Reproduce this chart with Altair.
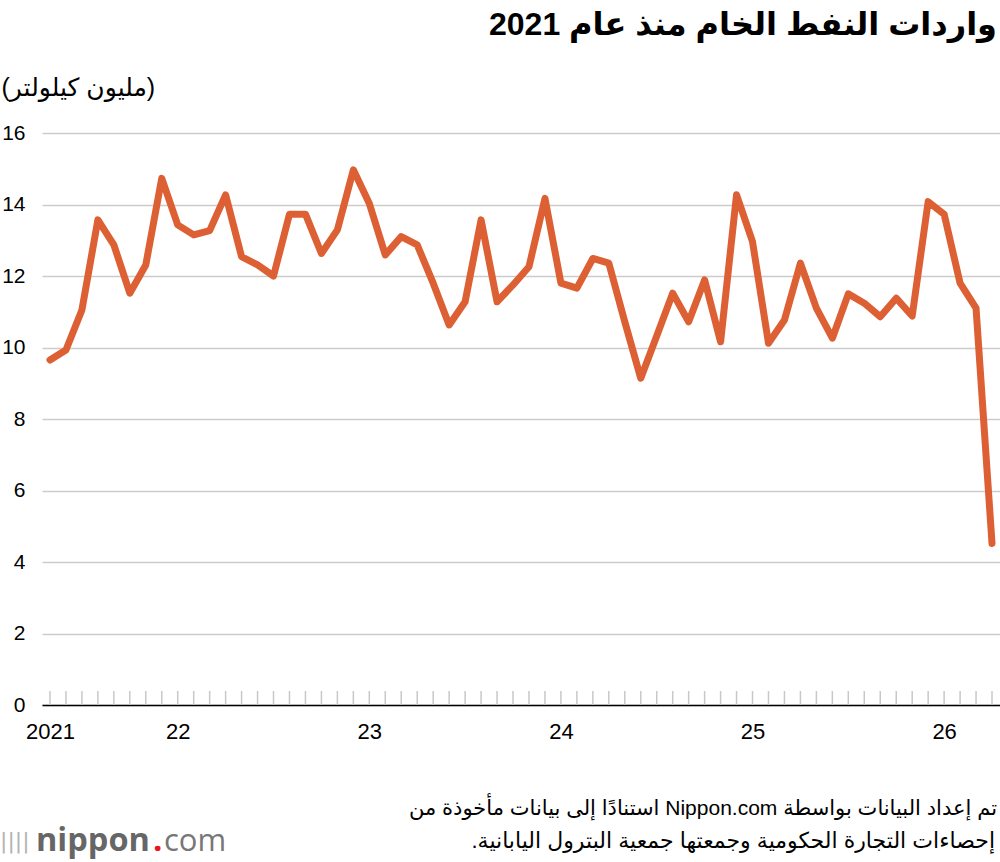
import altair as alt
import pandas as pd

# Monthly crude oil imports (million kilolitres), May 2021 -> Apr 2026
values = [9.65, 9.93, 11.05, 13.57, 12.87, 11.52, 12.31, 14.73, 13.43, 13.15,
          13.27, 14.27, 12.54, 12.31, 12.00, 13.73, 13.73, 12.63, 13.29, 14.97,
          14.03, 12.59, 13.10, 12.87, 11.80, 10.63, 11.28, 13.57, 11.28, 11.75,
          12.26, 14.17, 11.80, 11.66, 12.49, 12.36, 10.72, 9.14, 10.32, 11.52,
          10.72, 11.89, 10.16, 14.27, 12.96, 10.12, 10.77, 12.36, 11.10, 10.26,
          11.50, 11.24, 10.86, 11.38, 10.88, 14.08, 13.73, 11.80, 11.10, 4.52]
month_index = list(range(len(values)))
year_label_pos = [0, 8, 20, 32, 44, 56]
year_label_text = ["2021", "22", "23", "24", "25", "26"]
y_ticks = [0, 2, 4, 6, 8, 10, 12, 14, 16]

title_text = "واردات النفط الخام منذ عام 2021"
unit_text = "(مليون كيلولتر)"
footer_lines = ["تم إعداد البيانات بواسطة Nippon.com استنادًا إلى بيانات مأخوذة من",
                "إحصاءات التجارة الحكومية وجمعتها جمعية البترول اليابانية."]


def rtl(s):
    # right-to-left embedding so mixed Arabic/Latin lines read correctly
    return "\u202b" + s + "\u202c"


W, H = 958, 572
FONT = "Liberation Sans, DejaVu Sans, sans-serif"
LINE_COLOR = "#dc6033"

df = pd.DataFrame({"idx": month_index, "value": values})
ticks_df = pd.DataFrame({"idx": month_index})

label_expr = " : ".join(
    f"datum.value == {p} ? '{t}'" for p, t in zip(year_label_pos, year_label_text)
) + " : ''"

x_enc = alt.X(
    "idx:Q",
    scale=alt.Scale(domain=[-0.5, len(values) - 0.5], nice=False, zero=False),
    axis=alt.Axis(values=year_label_pos, labelExpr=label_expr, title=None,
                  grid=False, ticks=False, domain=True, domainColor="#000000",
                  domainWidth=1.5, labelFontSize=22, labelPadding=16,
                  labelFont=FONT, labelColor="#000000", labelFlush=False),
)

tick_rules = alt.Chart(ticks_df).mark_rule(color="#c8c8c8", strokeWidth=1.5).encode(
    x=x_enc,
    y=alt.value(H - 14),
    y2=alt.value(H),
)

line = alt.Chart(df).mark_line(
    color=LINE_COLOR, strokeWidth=7, strokeCap="round", strokeJoin="round"
).encode(
    x=x_enc,
    y=alt.Y("value:Q", scale=alt.Scale(domain=[0, 16], nice=False),
            axis=alt.Axis(values=y_ticks, title=unit_text, titleAngle=0,
                          titleAlign="left", titleBaseline="middle", titleX=-41,
                          titleY=-46, titleFontSize=25, titleFontWeight="normal",
                          titleFont=FONT, titleColor="#000000",
                          grid=True, gridColor="#cccccc", gridWidth=1.5,
                          ticks=False, domain=False, labelFontSize=21, labelPadding=17,
                          labelFont=FONT, labelColor="#000000")),
)

footer1 = alt.Chart(pd.DataFrame({"t": [rtl(footer_lines[0])]})).mark_text(
    align="right", baseline="middle", fontSize=21, font=FONT, color="#000000"
).encode(text="t:N", x=alt.value(955), y=alt.value(676))
footer2 = alt.Chart(pd.DataFrame({"t": [rtl(footer_lines[1])]})).mark_text(
    align="right", baseline="middle", fontSize=22, font=FONT, color="#000000"
).encode(text="t:N", x=alt.value(953), y=alt.value(708))

logo_bars = alt.Chart(pd.DataFrame({"t": ["||||"]})).mark_text(
    align="left", baseline="alphabetic", fontSize=22, font="DejaVu Sans", color="#b4b4b4"
).encode(text="t:N", x=alt.value(-42), y=alt.value(715))
logo_main = alt.Chart(pd.DataFrame({"t": ["nippon"]})).mark_text(
    align="left", baseline="alphabetic", fontSize=32.5, font="Open Sans",
    fontWeight="bold", color="#666666"
).encode(text="t:N", x=alt.value(-6), y=alt.value(718))
logo_dot = alt.Chart(pd.DataFrame({"t": ["."]})).mark_text(
    align="left", baseline="alphabetic", fontSize=33, font="Open Sans",
    fontWeight="bold", color="#e8141e"
).encode(text="t:N", x=alt.value(111), y=alt.value(718))
logo_com = alt.Chart(pd.DataFrame({"t": ["com"]})).mark_text(
    align="left", baseline="alphabetic", fontSize=31, font="Open Sans",
    fontWeight="normal", color="#777777"
).encode(text="t:N", x=alt.value(122), y=alt.value(718))

chart = alt.layer(
    tick_rules, line, footer1, footer2, logo_bars, logo_main, logo_dot, logo_com
).properties(
    width=W, height=H,
    padding={"left": 42, "top": 133, "right": 0, "bottom": 157},
    autosize=alt.AutoSizeParams(type="none"),
    title=alt.TitleParams(text=title_text, anchor="end", frame="group",
                          fontSize=32, font=FONT, fontWeight="bold", color="#000000",
                          offset=33, dx=-3),
    background="white",
).configure_view(stroke=None)

chart.save("out.html", embed_options={"renderer": "svg", "actions": False})
